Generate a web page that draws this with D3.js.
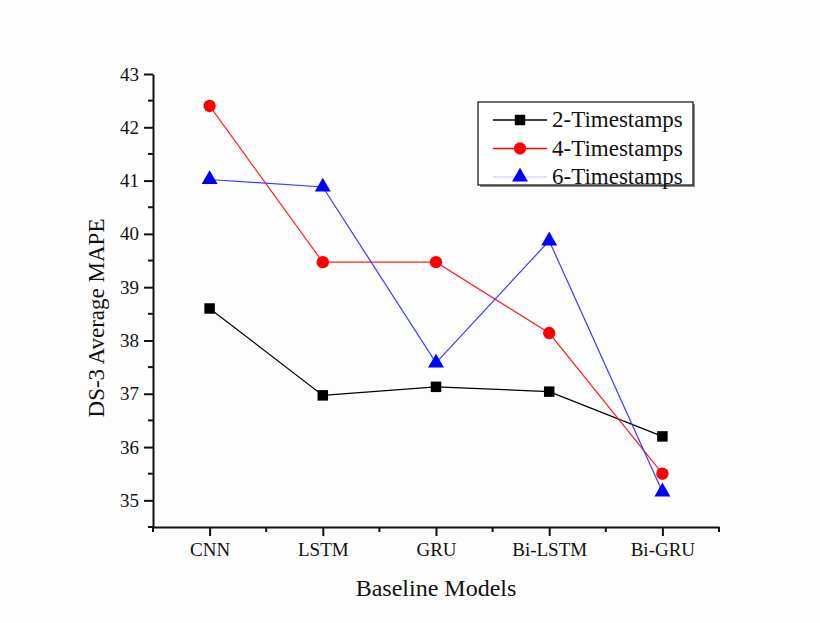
<!DOCTYPE html>
<html>
<head>
<meta charset="utf-8">
<script src="https://cdn.jsdelivr.net/npm/d3@7"></script>
<style>
body { margin: 0; background: #fff; }
svg { display: block; }
</style>
</head>
<body>
<div id="chart"></div>
<script>
// data
var categories = ["CNN", "LSTM", "GRU", "Bi-LSTM", "Bi-GRU"];
var seriesNames = ["2-Timestamps", "4-Timestamps", "6-Timestamps"];
var ts2 = [38.6, 36.97, 37.13, 37.04, 36.2];
var ts4 = [42.4, 39.47, 39.47, 38.14, 35.5];
var ts6 = [41.02, 40.88, 37.58, 39.87, 35.16];
var yTicks = [35, 36, 37, 38, 39, 40, 41, 42, 43];

var width = 820, height = 623;
var margin = {left: 153, top: 74, right: 101, bottom: 96};

var series = [
	{name: seriesNames[0], values: ts2, color: "#000", lineColor: "#000", legendLine: "#000", shape: d3.symbolSquare, size: 110},
	{name: seriesNames[1], values: ts4, color: "#ff0000", lineColor: "#ff2020", legendLine: "#ff0000", shape: d3.symbolCircle, size: 120},
	{name: seriesNames[2], values: ts6, color: "#0000ff", lineColor: "#3a3aff", legendLine: "#d8d8f4", shape: d3.symbolTriangle, size: 110}
];

var svg = d3.select("#chart").append("svg")
	.attr("width", width)
	.attr("height", height);

svg.append("rect")
	.attr("width", width)
	.attr("height", height)
	.attr("fill", "#fdfdfd");

var x = d3.scaleLinear()
	.domain([-0.5, categories.length - 0.5])
	.range([margin.left, width - margin.right]);

var y = d3.scaleLinear()
	.domain([34.5, 43])
	.range([height - margin.bottom, margin.top]);

var font = "'Liberation Serif', 'Times New Roman', serif";

// minor ticks
var xMinor = d3.range(-0.5, categories.length, 1);
var yMinor = d3.range(34.5, 43, 1);

var g = svg.append("g");

// x axis
var xAxis = g.append("g")
	.attr("transform", "translate(0," + (height - margin.bottom) + ")")
	.call(d3.axisBottom(x)
		.tickValues(d3.range(categories.length))
		.tickFormat(function(d) { return categories[d]; })
		.tickSize(9)
		.tickSizeOuter(0)
		.tickPadding(7));
xAxis.selectAll(".tick text").style("font-family", font).style("font-size", "19px").attr("fill", "#111");
xAxis.selectAll("line").attr("stroke-width", 2).attr("stroke", "#111");
xAxis.select(".domain").attr("stroke-width", 2).attr("stroke", "#111");
xAxis.selectAll(".minor").data(xMinor).enter().append("line")
	.attr("x1", function(d) { return x(d); })
	.attr("x2", function(d) { return x(d); })
	.attr("y1", 0).attr("y2", 5)
	.attr("stroke", "#111").attr("stroke-width", 2);

// y axis
var yAxis = g.append("g")
	.attr("transform", "translate(" + margin.left + ",0)")
	.call(d3.axisLeft(y)
		.tickValues(yTicks)
		.tickSize(9)
		.tickSizeOuter(0)
		.tickPadding(5));
yAxis.selectAll(".tick text").style("font-family", font).style("font-size", "19px").attr("fill", "#111");
yAxis.selectAll("line").attr("stroke-width", 2).attr("stroke", "#111");
yAxis.select(".domain").attr("stroke-width", 2).attr("stroke", "#111");
yAxis.selectAll(".minor").data(yMinor).enter().append("line")
	.attr("y1", function(d) { return y(d); })
	.attr("y2", function(d) { return y(d); })
	.attr("x1", 0).attr("x2", -5)
	.attr("stroke", "#111").attr("stroke-width", 2);

// axis titles
svg.append("text")
	.attr("x", 436)
	.attr("y", 596)
	.attr("text-anchor", "middle")
	.style("font-family", font)
	.style("font-size", "24px")
	.attr("fill", "#111")
	.text("Baseline Models");

svg.append("text")
	.attr("transform", "translate(104,318) rotate(-90)")
	.attr("text-anchor", "middle")
	.style("font-family", font)
	.style("font-size", "23px")
	.attr("fill", "#111")
	.text("DS-3 Average MAPE");

// lines and markers
var line = d3.line()
	.x(function(d, i) { return x(i); })
	.y(function(d) { return y(d); });

series.forEach(function(s) {
	svg.append("path")
		.datum(s.values)
		.attr("d", line)
		.attr("fill", "none")
		.attr("stroke", s.lineColor)
		.attr("stroke-width", 1.2);
});

series.forEach(function(s) {
	svg.selectAll(null).data(s.values).enter().append("path")
		.attr("d", d3.symbol().type(s.shape).size(s.size))
		.attr("transform", function(d, i) { return "translate(" + x(i) + "," + y(d) + ")"; })
		.attr("fill", s.color);
});

// legend
var legend = svg.append("g").attr("transform", "translate(478,102)");
legend.append("rect")
	.attr("x", 2).attr("y", 2)
	.attr("width", 215).attr("height", 83)
	.attr("fill", "#888");
legend.append("rect")
	.attr("width", 215).attr("height", 83)
	.attr("fill", "#fff")
	.attr("stroke", "#111")
	.attr("stroke-width", 1.2);

series.forEach(function(s, i) {
	var ly = 18 + i * 28.5;
	legend.append("line")
		.attr("x1", 15).attr("x2", 69)
		.attr("y1", ly).attr("y2", ly)
		.attr("stroke", s.legendLine)
		.attr("stroke-width", 1.5);
	legend.append("path")
		.attr("d", d3.symbol().type(s.shape).size(s.size))
		.attr("transform", "translate(42," + ly + ")")
		.attr("fill", s.color);
	legend.append("text")
		.attr("x", 74)
		.attr("y", ly + 7)
		.style("font-family", font)
		.style("font-size", "23px")
		.attr("fill", "#111")
		.text(s.name);
});
</script>
</body>
</html>
